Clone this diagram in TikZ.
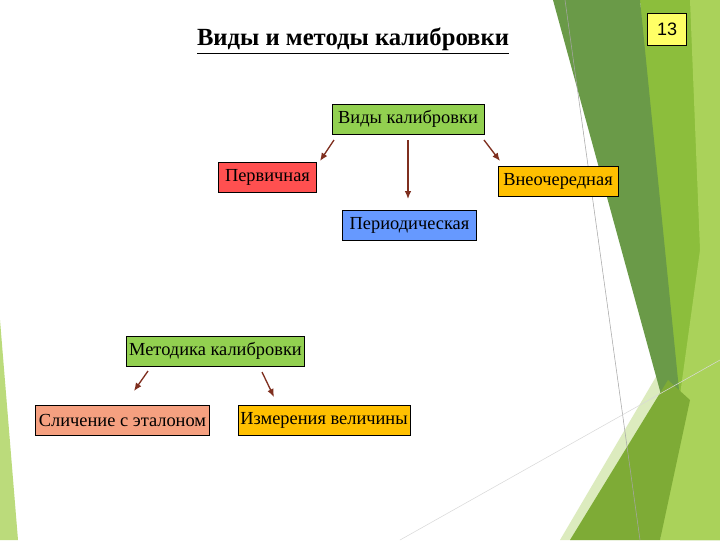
\documentclass[tikz,border=0pt]{standalone}
\usepackage{fontspec}
\setmainfont{Liberation Serif}
\newfontfamily\sansf{Liberation Sans}
\usetikzlibrary{arrows.meta}
\begin{document}
\begin{tikzpicture}[x=0.75pt,y=-0.75pt,
  box/.style={draw=black,line width=0.6pt,inner sep=0pt,font=\fontsize{13.8}{16}\selectfont},
  arr/.style={draw={rgb,255:red,127;green,47;blue,31},line width=1pt,-{Latex[length=6pt,width=5pt]}}]
\definecolor{dg}{RGB}{106,154,72}
\definecolor{mg}{RGB}{140,190,60}
\definecolor{lg}{RGB}{170,210,90}
\definecolor{pg}{RGB}{220,235,190}
\useasboundingbox (0,0) rectangle (720,540);
\fill[white] (0,0) rectangle (720,540);
% decorative background
\fill[pg] (560,540) -- (660,370) -- (720,330) -- (720,540) -- cycle;
\fill[mg] (640,0) -- (720,0) -- (720,540) -- (680,540) -- cycle;
\fill[dg] (553,0) -- (640,0) -- (680,400) -- (668,420) -- cycle;
\fill[lg] (690,0) -- (720,0) -- (720,540) -- (660,540) -- (700,250) -- cycle;
\fill[mg!90!black] (570,540) -- (668,380) -- (690,400) -- (660,540) -- cycle;
\fill[lg!80!white] (0,320) -- (18,540) -- (0,540) -- cycle;
\draw[gray!70,line width=0.4pt] (565,0) -- (640,540);
\draw[gray!30,line width=0.4pt] (400,540) -- (720,360);
% title
\node[font=\bfseries\fontsize{18.5}{21}\selectfont] (title) at (353,41) {\underline{Виды и методы калибровки}};
\node[draw=black,fill={rgb,255:red,255;green,255;blue,102},minimum width=29pt,minimum height=24pt,inner sep=0pt,font=\sansf\fontsize{13.5}{15}\selectfont] (num) at (667,29) {13};
% boxes
\node[box,fill={rgb,255:red,146;green,208;blue,80},minimum width=114pt,minimum height=22.5pt] (v) at (408,119) {Виды калибровки};
\node[box,fill={rgb,255:red,255;green,80;blue,80},minimum width=74pt,minimum height=22.5pt] (p1) at (267.5,177) {Первичная};
\node[box,fill={rgb,255:red,255;green,192;blue,0},minimum width=90pt,minimum height=22.5pt] (p3) at (558,181) {Внеочередная};
\node[box,fill={rgb,255:red,102;green,153;blue,255},minimum width=100pt,minimum height=23pt] (p2) at (409.5,225.5) {Периодическая};
\node[box,fill={rgb,255:red,146;green,208;blue,80},minimum width=134pt,minimum height=22.5pt] (m) at (215.5,351) {Методика калибровки};
\node[box,fill={rgb,255:red,245;green,160;blue,128},minimum width=131pt,minimum height=22.5pt] (s) at (122.5,420) {Сличение с эталоном};
\node[box,fill={rgb,255:red,255;green,192;blue,0},minimum width=129pt,minimum height=22.5pt] (iz) at (324,420) {Измерения величины};
% arrows
\coordinate (a1) at (334,140); \coordinate (a2) at (408,140); \coordinate (a3) at (484,140);
\coordinate (b1) at (148,371); \coordinate (b2) at (262,372);
\draw[arr] (a1) -- (320,161);
\draw[arr] (a2) -- (408,199);
\draw[arr] (a3) -- (500,161);
\draw[arr] (b1) -- (134,391);
\draw[arr] (b2) -- (274,397);
\end{tikzpicture}
\end{document}
